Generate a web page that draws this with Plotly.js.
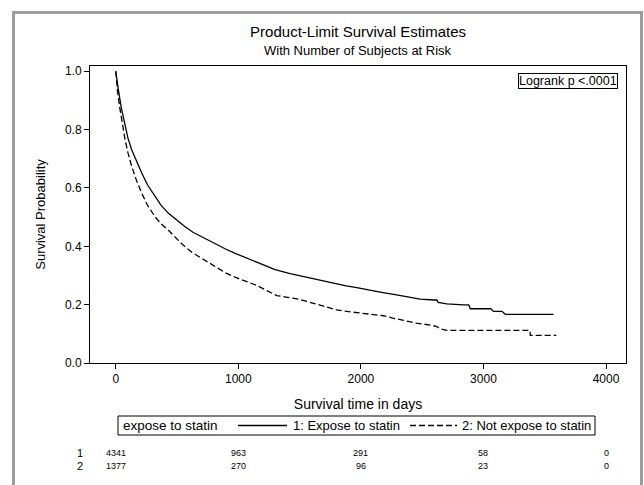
<!DOCTYPE html>
<html>
<head>
<meta charset="utf-8">
<script src="https://cdn.plot.ly/plotly-3.0.1.min.js"></script>
<style>
  html, body { margin: 0; padding: 0; background: #ffffff; }
  #wrap { position: relative; width: 644px; height: 485px; overflow: hidden; }
  #chart { width: 644px; height: 485px; }
  #frame { position: absolute; left: 12px; top: 11px; width: 625px; height: 500px;
           border-left: 3px solid #9c9c9c; border-top: 3px solid #9c9c9c; border-right: 3px solid #9c9c9c;
           pointer-events: none; }
</style>
</head>
<body>
<div id="wrap">
  <div id="chart"></div>
  <div id="frame"></div>
</div>
<script>
// ---- Data ----
var statinTime = [0, 10, 21, 45, 76, 100, 130, 170, 212, 260, 321, 370, 430, 500, 566, 630, 702, 770, 838, 900, 974, 1055, 1120, 1205, 1300, 1423, 1520, 1613, 1700, 1804, 1880, 1967, 2060, 2157, 2280, 2402, 2484, 2593, 2620, 2630, 2702, 2838, 2880, 2892, 3060, 3082, 3151, 3178, 3572];
var statinSurv = [1.0, 0.965, 0.938, 0.875, 0.811, 0.77, 0.731, 0.69, 0.651, 0.61, 0.57, 0.54, 0.513, 0.488, 0.467, 0.448, 0.432, 0.417, 0.403, 0.39, 0.376, 0.362, 0.35, 0.334, 0.32, 0.306, 0.297, 0.289, 0.28, 0.271, 0.264, 0.258, 0.25, 0.243, 0.234, 0.225, 0.219, 0.216, 0.216, 0.208, 0.203, 0.199, 0.199, 0.186, 0.186, 0.177, 0.177, 0.167, 0.167];

var noStatinTime = [0, 15, 35, 55, 76, 100, 130, 170, 212, 260, 321, 370, 430, 500, 566, 630, 702, 770, 838, 900, 974, 1055, 1096, 1150, 1205, 1260, 1314, 1400, 1478, 1560, 1641, 1720, 1804, 1900, 2021, 2184, 2260, 2348, 2450, 2566, 2620, 2647, 2700, 3380, 3382, 3594];
var noStatinSurv = [1.0, 0.93, 0.869, 0.81, 0.766, 0.72, 0.674, 0.625, 0.582, 0.54, 0.501, 0.477, 0.455, 0.425, 0.398, 0.377, 0.358, 0.34, 0.323, 0.308, 0.294, 0.281, 0.277, 0.266, 0.254, 0.242, 0.231, 0.225, 0.22, 0.211, 0.202, 0.192, 0.182, 0.176, 0.17, 0.162, 0.154, 0.145, 0.137, 0.13, 0.125, 0.117, 0.112, 0.112, 0.095, 0.095];

var legendTitle = "expose to statin";
var seriesNames = ["1: Expose to statin", "2: Not expose to statin"];
var atRiskTimes = [0, 1000, 2000, 3000, 4000];
var atRiskStatin = [4341, 963, 291, 58, 0];
var atRiskNoStatin = [1377, 270, 96, 23, 0];
var rowLabels = ["1", "2"];

var FONT = "Liberation Sans, Arial, sans-serif";
var DASH = "6px,3px";

var traces = [
  { x: statinTime, y: statinSurv, type: "scatter", mode: "lines", name: seriesNames[0],
    line: { color: "#000000", width: 1.3, shape: "linear" } },
  { x: noStatinTime, y: noStatinSurv, type: "scatter", mode: "lines", name: seriesNames[1],
    line: { color: "#000000", width: 1.3, dash: DASH, shape: "linear" } }
];

// pixel -> paper helpers for the decorations (plot area: x 90..626, y 66..363)
function px(x) { return (x - 90) / 536; }
function py(y) { return (363 - y) / 297; }

var annotations = [];
annotations.push({ xref: "paper", yref: "paper", x: px(618), y: py(73), xanchor: "right", yanchor: "top",
  text: "Logrank p <.0001", showarrow: false, font: { family: FONT, size: 12.5, color: "#000" },
  bordercolor: "#000", borderwidth: 1, borderpad: 0, bgcolor: "#fff" });

// subtitle
annotations.push({ xref: "paper", yref: "paper", x: 0.5, y: py(50), xanchor: "center", yanchor: "middle",
  text: "With Number of Subjects at Risk", showarrow: false, borderpad: 0,
  font: { family: FONT, size: 13, color: "#000" } });

// legend (drawn as a boxed key under the axis title)
var legY = py(425.5);
annotations.push({ xref: "paper", yref: "paper", x: px(121), y: legY, xanchor: "left", yanchor: "middle",
  text: legendTitle, showarrow: false, font: { family: FONT, size: 13.5, color: "#000" } });
annotations.push({ xref: "paper", yref: "paper", x: px(291), y: legY, xanchor: "left", yanchor: "middle",
  text: seriesNames[0], showarrow: false, font: { family: FONT, size: 13, color: "#000" } });
annotations.push({ xref: "paper", yref: "paper", x: px(460), y: legY, xanchor: "left", yanchor: "middle",
  text: seriesNames[1], showarrow: false, font: { family: FONT, size: 13, color: "#000" } });

var shapes = [
  { type: "rect", xref: "paper", yref: "paper", x0: px(118), x1: px(595), y0: py(416), y1: py(435),
    line: { color: "#000", width: 1 }, fillcolor: "rgba(0,0,0,0)" },
  { type: "line", xref: "paper", yref: "paper", x0: px(238), x1: px(287), y0: legY, y1: legY,
    line: { color: "#000", width: 1.3 } },
  { type: "line", xref: "paper", yref: "paper", x0: px(410), x1: px(457), y0: legY, y1: legY,
    line: { color: "#000", width: 1.3, dash: DASH } }
];

// number at risk table
var rows = [atRiskStatin, atRiskNoStatin];
var rowY = [py(452.5), py(465.5)];
for (var r = 0; r < rows.length; r++) {
  annotations.push({ xref: "paper", yref: "paper", x: px(80), y: rowY[r], xanchor: "center", yanchor: "middle",
    text: rowLabels[r], showarrow: false, borderpad: 0, font: { family: FONT, size: 11, color: "#000" } });
  for (var i = 0; i < atRiskTimes.length; i++) {
    annotations.push({ xref: "x", yref: "paper", x: atRiskTimes[i], y: rowY[r], xanchor: "center", yanchor: "middle",
      text: String(rows[r][i]), showarrow: false, borderpad: 0, font: { family: FONT, size: 9, color: "#000" } });
  }
}

var layout = {
  width: 644, height: 485,
  paper_bgcolor: "#ffffff", plot_bgcolor: "#ffffff",
  margin: { l: 90, r: 18, t: 66, b: 122 },
  font: { family: FONT, color: "#000" },
  title: {
    text: "Product-Limit Survival Estimates",
    font: { family: FONT, size: 15, color: "#000" },
    x: 0.556, xanchor: "center", y: 0.935, yanchor: "middle"
  },
  xaxis: {
    range: [-210, 4163], tickvals: atRiskTimes, ticktext: atRiskTimes.map(String),
    ticks: "outside", ticklen: 5, tickcolor: "#000", tickwidth: 1,
    showline: true, linecolor: "#000", linewidth: 1, mirror: true,
    showgrid: false, zeroline: false, automargin: false,
    tickfont: { family: FONT, size: 12, color: "#000" },
    title: { text: "Survival time in days", font: { family: FONT, size: 14, color: "#000" }, standoff: 13 }
  },
  yaxis: {
    range: [0, 1.018], tickvals: [0, 0.2, 0.4, 0.6, 0.8, 1.0], tickformat: ".1f",
    ticks: "outside", ticklen: 5, tickcolor: "#000", tickwidth: 1,
    showline: true, linecolor: "#000", linewidth: 1, mirror: true,
    showgrid: false, zeroline: false, automargin: false,
    tickfont: { family: FONT, size: 12, color: "#000" },
    title: { text: "Survival Probability", font: { family: FONT, size: 13, color: "#000" }, standoff: 16 }
  },
  showlegend: false,
  shapes: shapes,
  annotations: annotations
};

Plotly.newPlot("chart", traces, layout, { displayModeBar: false, staticPlot: true });
</script>
</body>
</html>
